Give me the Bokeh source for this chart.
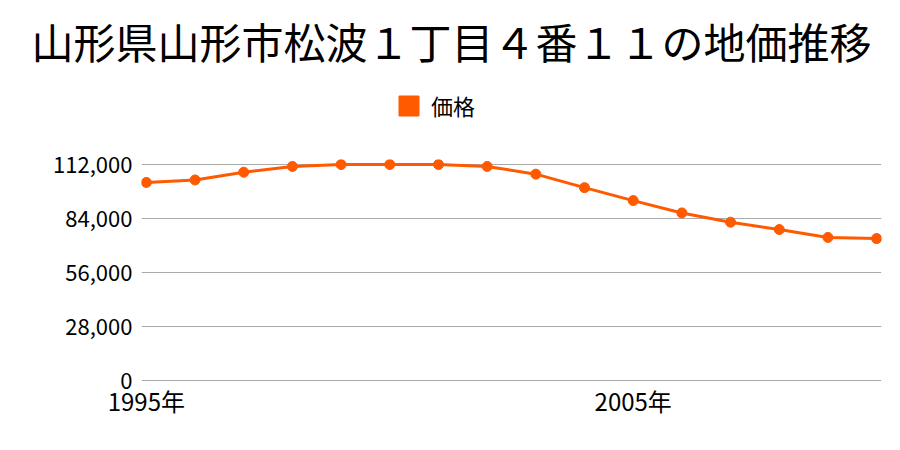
from bokeh.plotting import figure
from bokeh.layouts import column
from bokeh.models import Range1d, FixedTicker, Legend, LegendItem, NumeralTickFormatter, ColumnDataSource
from bokeh.embed import file_html
from bokeh.resources import INLINE

years = list(range(1995, 2011))
prices = [102700, 104000, 108000, 111000, 112000, 112000, 112000, 111000,
          107000, 100000, 93300, 86900, 82100, 78300, 74200, 73600]
y_ticks = [0, 28000, 56000, 84000, 112000]
x_ticks = [1995, 2005]
x_labels = {1995: "1995年", 2005: "2005年"}
title_text = "山形県山形市松波１丁目４番１１の地価推移"
series_name = "価格"

FONT = "Noto Sans CJK JP"
ORANGE = "#ff5a00"
LEFT, RIGHT = 141, 19

# header: title (plot title) and legend
h = figure(width=900, height=140, output_backend="svg", toolbar_location=None,
           x_range=Range1d(0, 1), y_range=Range1d(0, 1),
           x_axis_type=None, y_axis_type=None,
           min_border_left=LEFT, min_border_right=RIGHT, min_border_top=70, min_border_bottom=0)
h.outline_line_color = None
h.xgrid.visible = False
h.ygrid.visible = False
h.title.text = title_text
h.title.align = "left"
h.title.offset = 31 - LEFT
h.title.standoff = 0
h.title.text_font = FONT
h.title.text_font_size = "42px"
h.title.text_font_style = "normal"
h.title.text_color = "#000000"
proxy = h.quad(left=[-1], right=[-1], top=[-1], bottom=[-1], fill_color=ORANGE, line_color=ORANGE)
legend = Legend(items=[LegendItem(label=series_name, renderers=[proxy])],
                orientation="horizontal", location=(396 - LEFT, 19),
                label_text_font=FONT, label_text_font_size="22px", label_text_color="#000000",
                glyph_width=25, glyph_height=25, border_line_color=None,
                background_fill_alpha=0, margin=0, padding=0, label_standoff=10)
h.add_layout(legend, "center")

# main chart
p = figure(width=900, height=310, output_backend="svg", toolbar_location=None,
           x_range=Range1d(1994.9, 2010.1), y_range=Range1d(-1000, 114600),
           min_border_left=LEFT, min_border_right=RIGHT, min_border_bottom=68, min_border_top=19)

src = ColumnDataSource(dict(x=years, y=prices))
p.line("x", "y", source=src, line_color=ORANGE, line_width=3)
p.scatter("x", "y", source=src, size=10, fill_color=ORANGE, line_color=ORANGE)

p.outline_line_color = None
p.xgrid.grid_line_color = None
p.ygrid.grid_line_color = "#aaaaaa"
p.ygrid.grid_line_width = 1
p.yaxis.ticker = FixedTicker(ticks=y_ticks)
p.yaxis.formatter = NumeralTickFormatter(format="0,0")
p.xaxis.ticker = FixedTicker(ticks=x_ticks)
p.xaxis.major_label_overrides = x_labels
for ax in (p.xaxis, p.yaxis):
    ax.axis_line_color = None
    ax.major_tick_line_color = None
    ax.minor_tick_line_color = None
    ax.major_tick_out = 0
    ax.major_tick_in = 0
    ax.major_label_text_font = FONT
    ax.major_label_text_color = "#000000"
p.yaxis.major_label_text_font_size = "22px"
p.xaxis.major_label_text_font_size = "24px"
p.yaxis.major_label_standoff = 9
p.xaxis.major_label_standoff = 0

open("out.html", "w").write(file_html(column(h, p, spacing=0), INLINE))
